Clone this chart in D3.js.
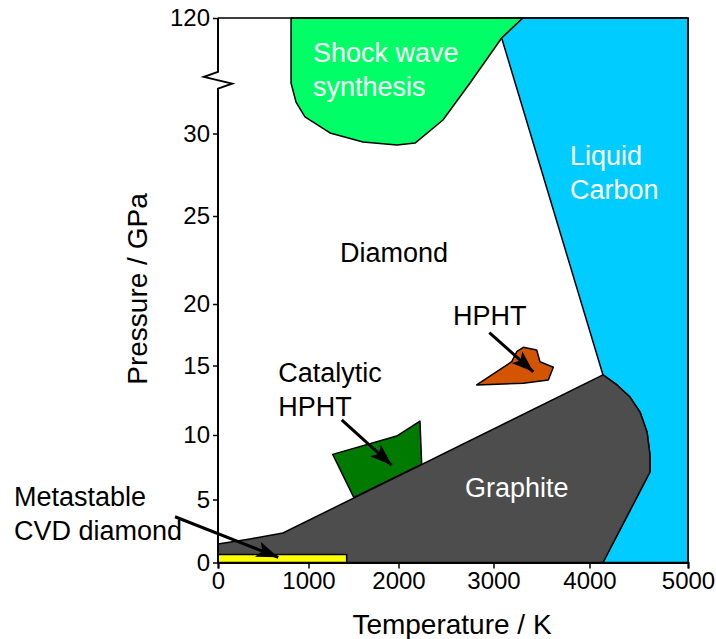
<!DOCTYPE html>
<html><head><meta charset="utf-8">
<script src="https://cdn.jsdelivr.net/npm/d3@7"></script>
<style>body{margin:0;background:#fff}svg{display:block}text{font-family:"Liberation Sans",Arial,sans-serif}</style>
</head><body><svg id="c" width="716" height="639"></svg>
<script>
// Axis ticks (data units)
const xTicks = [0, 1000, 2000, 3000, 4000, 5000];
const yTicks = [0, 5, 10, 15, 20, 25, 30, 120];
// Pixel anchors for the (non-uniform) axes, as drawn in the original figure
const xAnchors = [218, 308.5, 398.5, 493.5, 589.5, 688];
const yAnchors = [562.5, 499.5, 435, 365.5, 304, 216, 133.5, 18];
const yBreak = [65, 78]; // axis break between 30 and 120 GPa

// Region outlines: [Temperature K, Pressure GPa]
const shockWave = [[807,120],[807,69.4],[862,54.5],[961,42.9],[1239,30.4],[1606,29.48],[1983,29.3],[2174,29.42],[2468,40.5],[2753,69.4],[3085,104.4],[3307,120]];
const liquidCarbon = [[3307,120],[5000,120],[5000,0],[4137,0],[4614,7.13],[4614,8.45],[4584,10.22],[4513,11.65],[4411,12.73],[4279,13.6],[4137,14.32],[3085,104.4]];
const graphite = [[0,0],[0,1.47],[354,1.87],[718,2.34],[4137,14.32],[4279,13.6],[4411,12.73],[4513,11.65],[4584,10.22],[4614,8.45],[4614,7.13],[4137,0]];
const catalyticHPHT = [[1269,8.5],[1980,9.92],[2226,11.0],[2244,7.73],[1503,5.16]];
const hpht = [[2823,13.6],[3190,15.31],[3242,16.12],[3310,16.48],[3450,16.26],[3484,15.31],[3623,14.87],[3571,13.96],[3310,13.72]];
const cvd = [[0,0],[1424,0],[1424,0.63],[0,0.63]];

// Arrows: [from, to]
const arrows = [
  [[2956,17.67],[3415,14.55]],
  [[1369,11.08],[1924,7.67]],
  [[-475,3.63],[666,0.41]]
];

const regionLabels = [
  {lines:["Shock wave","synthesis"], at:[1050,85.7], color:"#fff"},
  {lines:["Liquid","Carbon"], at:[3797,28.1], color:"#fff"},
  {lines:["Diamond"], at:[1350,22.4], color:"#000"},
  {lines:["HPHT"], at:[2574,18.29], color:"#000"},
  {lines:["Catalytic","HPHT"], at:[666,13.83], color:"#000"},
  {lines:["Graphite"], at:[2700,5.22], color:"#fff"},
  {lines:["Metastable","CVD diamond"], at:[-2254,4.48], color:"#000"}
];

const svg = d3.select("#c");
const x = d3.scaleLinear().domain(xTicks).range(xAnchors);
const y = d3.scaleLinear().domain(yTicks).range(yAnchors);
const line = d3.line().x(d => x(d[0])).y(d => y(d[1]));

const defs = svg.append("defs");
defs.append("marker").attr("id","ah").attr("viewBox","0 0 22 16").attr("refX",22).attr("refY",8)
  .attr("markerWidth",22).attr("markerHeight",16).attr("markerUnits","userSpaceOnUse").attr("orient","auto")
  .append("path").attr("d","M0,0 L22,8 L0,16 L5,8 Z").attr("fill","#000");

const shape = (pts, fill) => svg.append("path").attr("d", line(pts) + "Z")
  .attr("fill", fill).attr("stroke","#000").attr("stroke-width",1.5).attr("stroke-linejoin","round");

shape(shockWave, "#00FF66");
shape(liquidCarbon, "#00CCFF");
shape(graphite, "#4D4D4D");
shape(catalyticHPHT, "#007A00");
shape(hpht, "#D45500");
shape(cvd, "#FFFF00");

// frame top & right
svg.append("path").attr("d", `M${x(0)},${y(120)}H${x(5000)}V${y(0)}`)
  .attr("fill","none").attr("stroke","#000").attr("stroke-width",1.5);

arrows.forEach(a => {
  svg.append("line").attr("x1",x(a[0][0])).attr("y1",y(a[0][1])).attr("x2",x(a[1][0])).attr("y2",y(a[1][1]))
    .attr("stroke","#000").attr("stroke-width",3).attr("marker-end","url(#ah)");
});

// axes
const xa = svg.append("g").attr("transform",`translate(0,${y(0)})`)
  .call(d3.axisBottom(x).tickValues(xTicks).tickFormat(d3.format("d")).tickSize(6).tickPadding(3));
const ya = svg.append("g").attr("transform",`translate(${x(0)},0)`)
  .call(d3.axisLeft(y).tickValues(yTicks).tickFormat(d3.format("d")).tickSize(5).tickPadding(3));
[xa, ya].forEach(g => {
  g.selectAll(".tick line").attr("stroke","#000").attr("stroke-width",1.5);
  g.selectAll(".tick text").attr("fill","#000").style("font-size","24px").style("font-family",'"Liberation Sans",Arial,sans-serif');
});
xa.select(".domain").attr("stroke","#000").attr("stroke-width",2);
ya.select(".domain").remove();
const x0 = x(0), yb1 = y(yBreak[1]), yb0 = y(yBreak[0]);
svg.append("path").attr("d", `M${x0},${y(120)}V${yb1}L${x0-14},${yb1+5}L${x0+14},${yb0-5}L${x0},${yb0}V${y(0)}`)
  .attr("fill","none").attr("stroke","#000").attr("stroke-width",2);

// region labels
regionLabels.forEach(l => {
  const t = svg.append("text").attr("x", x(l.at[0])).attr("y", y(l.at[1]))
    .attr("fill", l.color).style("font-size","27px");
  l.lines.forEach((s,i) => t.append("tspan").attr("x", x(l.at[0])).attr("dy", i ? 34 : 0).text(s));
});

// axis titles
svg.append("text").attr("x", 452).attr("y", 634).attr("text-anchor","middle").style("font-size","28px").text("Temperature / K");
svg.append("text").attr("transform","translate(147,289) rotate(-90)").attr("text-anchor","middle").style("font-size","28px").text("Pressure / GPa");
</script></body></html>
